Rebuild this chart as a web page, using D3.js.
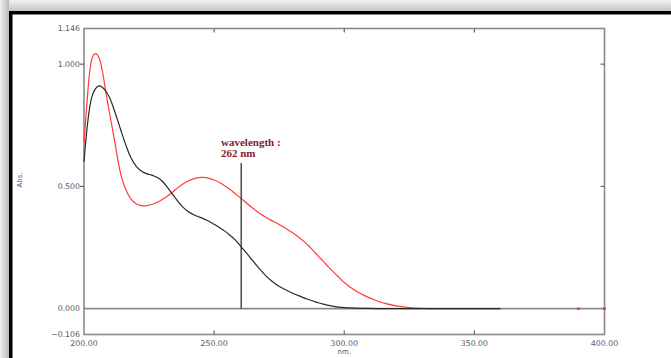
<!DOCTYPE html>
<html><head><meta charset="utf-8">
<script src="https://cdn.jsdelivr.net/npm/d3@7"></script>
<style>html,body{margin:0;padding:0;background:#fff;overflow:hidden}</style>
</head><body>
<svg id="chart" width="671" height="358"></svg>
<script>
const wavelengths = [200,201,202,203,204,205,206,207,208,209,210,212,214,216,218,220,222,224,226,228,230,232,234,236,238,240,242,244,246,248,250,252,254,256,258,260,262,264,266,268,270,272,274,276,278,280,282,284,286,288,290,292,294,296,298,300,304,308,312,316,320,325,330,340,350,360];
const sampleBlack = [0.60,0.72,0.81,0.865,0.893,0.907,0.911,0.906,0.895,0.879,0.86,0.80,0.735,0.672,0.618,0.583,0.563,0.552,0.546,0.537,0.522,0.497,0.468,0.44,0.415,0.397,0.385,0.376,0.367,0.357,0.345,0.332,0.318,0.301,0.282,0.258,0.233,0.207,0.181,0.156,0.133,0.114,0.098,0.085,0.074,0.064,0.055,0.046,0.038,0.031,0.024,0.018,0.013,0.009,0.006,0.004,0.002,0.001,0,0,0,0,0,0,0,0];
const sampleRed = [0.68,0.82,0.95,1.02,1.042,1.04,1.02,0.975,0.912,0.848,0.79,0.672,0.556,0.488,0.449,0.429,0.421,0.421,0.426,0.434,0.446,0.46,0.476,0.494,0.51,0.522,0.531,0.536,0.537,0.533,0.526,0.516,0.503,0.488,0.471,0.454,0.436,0.418,0.401,0.386,0.373,0.361,0.35,0.338,0.325,0.311,0.296,0.279,0.26,0.238,0.215,0.193,0.17,0.148,0.127,0.107,0.075,0.052,0.034,0.02,0.011,0.004,0.001,0,0,0];
const redDots = [390,400];
const xTicks = [200,250,300,350,400];
const yTicks = [-0.106,0.000,0.500,1.000,1.146];
const xDomain = [200,400];
const yDomain = [-0.106,1.146];
const markerWavelength = 260.4;
const markerLabel = ["wavelength :","262 nm"];
const xTitle = "nm.";
const yTitle = "Abs.";

const svg = d3.select("#chart");
const defs = svg.append("defs");
const gTop = defs.append("linearGradient").attr("id","gtop").attr("x1",0).attr("y1",0).attr("x2",0).attr("y2",1);
gTop.append("stop").attr("offset","0%").attr("stop-color","#f2f2f2");
gTop.append("stop").attr("offset","100%").attr("stop-color","#c4c4c4");
const gLeft = defs.append("linearGradient").attr("id","gleft").attr("x1",0).attr("y1",0).attr("x2",1).attr("y2",0);
gLeft.append("stop").attr("offset","0%").attr("stop-color","#f2f2f2");
gLeft.append("stop").attr("offset","100%").attr("stop-color","#b8b8b8");

svg.append("rect").attr("x",0).attr("y",0).attr("width",671).attr("height",11).attr("fill","url(#gtop)");
svg.append("rect").attr("x",0).attr("y",0).attr("width",9).attr("height",358).attr("fill","url(#gleft)");
svg.append("rect").attr("x",9).attr("y",11).attr("width",662).attr("height",3.5).attr("fill","#000");
svg.append("rect").attr("x",9).attr("y",11).attr("width",3.5).attr("height",347).attr("fill","#000");

const L = 84, R = 604.5, T = 28.5, B = 334.5;
const x = d3.scaleLinear().domain(xDomain).range([L,R]);
const y = d3.scaleLinear().domain(yDomain).range([B,T]);

const axisColor = "#8a8a8a";
const labelColor = "#555a66";
const font = "'DejaVu Sans', Verdana, sans-serif";

svg.append("rect").attr("x",L).attr("y",T).attr("width",R-L).attr("height",B-T)
  .attr("fill","none").attr("stroke",axisColor).attr("stroke-width",1.6);
svg.append("line").attr("x1",L).attr("x2",R).attr("y1",y(0)).attr("y2",y(0))
  .attr("stroke",axisColor).attr("stroke-width",1.6);

const innerX = xTicks.filter(d=>d>xDomain[0]&&d<xDomain[1]);
const innerY = yTicks.filter(d=>d>0&&d<yDomain[1]);
svg.append("g").selectAll("line").data(innerX).join("line")
  .attr("x1",d=>x(d)).attr("x2",d=>x(d)).attr("y1",T).attr("y2",T+4)
  .attr("stroke","#666").attr("stroke-width",1.2);
svg.append("g").selectAll("line").data(innerX).join("line")
  .attr("x1",d=>x(d)).attr("x2",d=>x(d)).attr("y1",B).attr("y2",B-4)
  .attr("stroke","#666").attr("stroke-width",1.2);
svg.append("g").selectAll("line").data(innerY).join("line")
  .attr("x1",L-4).attr("x2",L).attr("y1",d=>y(d)).attr("y2",d=>y(d))
  .attr("stroke","#666").attr("stroke-width",1.2);
svg.append("g").selectAll("line").data(innerY).join("line")
  .attr("x1",R).attr("x2",R-4).attr("y1",d=>y(d)).attr("y2",d=>y(d))
  .attr("stroke","#666").attr("stroke-width",1.2);

svg.append("g").selectAll("text").data(yTicks).join("text")
  .attr("x",L-4).attr("y",d=>y(d)).attr("dy","0.35em").attr("text-anchor","end")
  .attr("font-family",font).attr("font-size",7.8).attr("fill",labelColor)
  .text(d=>d3.format(".3f")(d));
svg.append("g").selectAll("text").data(xTicks).join("text")
  .attr("x",d=>x(d)).attr("y",B+11).attr("text-anchor","middle")
  .attr("font-family",font).attr("font-size",7.8).attr("fill",labelColor)
  .text(d=>d3.format(".2f")(d));
svg.append("text").attr("x",x(300)).attr("y",B+19.5).attr("text-anchor","middle")
  .attr("font-family",font).attr("font-size",7).attr("fill",labelColor).text(xTitle);
svg.append("text").attr("transform",`translate(22,180) rotate(-90)`).attr("text-anchor","middle")
  .attr("font-family",font).attr("font-size",7).attr("fill",labelColor).text(yTitle);

const line = d3.line().curve(d3.curveCatmullRom.alpha(0.5));
const blackPts = wavelengths.map((w,i)=>[x(w),y(sampleBlack[i])]);
const redPts = wavelengths.map((w,i)=>[x(w),y(sampleRed[i])]);
svg.append("path").attr("d",line(redPts)).attr("fill","none").attr("stroke","#ff3b3b").attr("stroke-width",1.2);
svg.append("path").attr("d",line(blackPts)).attr("fill","none").attr("stroke","#2a2a2a").attr("stroke-width",1.2);
svg.append("g").selectAll("rect").data(redDots).join("rect")
  .attr("x",d=>x(d)-1.5).attr("y",y(0)-1).attr("width",3).attr("height",2).attr("fill","#e03030");

svg.append("line").attr("x1",x(markerWavelength)).attr("x2",x(markerWavelength))
  .attr("y1",163).attr("y2",y(0)).attr("stroke","#333").attr("stroke-width",1.3);
svg.append("g").selectAll("text").data(markerLabel).join("text")
  .attr("x",221).attr("y",(d,i)=>146+i*11)
  .attr("font-family","'Liberation Serif', 'DejaVu Serif', serif").attr("font-weight","bold")
  .attr("font-size",11).attr("fill","#8b1a2a").text(d=>d);
</script>
</body></html>
